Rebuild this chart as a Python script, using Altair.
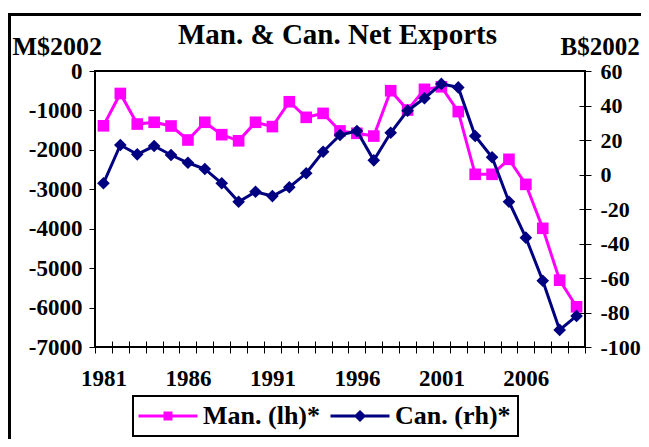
import altair as alt
import pandas as pd

# ---------------- data ----------------
years = [1981, 1982, 1983, 1984, 1985, 1986, 1987, 1988, 1989, 1990,
         1991, 1992, 1993, 1994, 1995, 1996, 1997, 1998, 1999, 2000,
         2001, 2002, 2003, 2004, 2005, 2006, 2007, 2008, 2009]
man = [-1390, -570, -1345, -1300, -1395, -1750, -1300, -1615, -1770, -1300,
       -1410, -780, -1175, -1075, -1520, -1580, -1650, -500, -990, -465,
       -400, -1030, -2620, -2620, -2240, -2875, -3990, -5305, -5980]
can = [-5.1, 17.1, 11.7, 16.5, 11.3, 6.8, 3.2, -5.1, -15.8, -10.0,
       -12.5, -7.4, 0.7, 13.2, 22.9, 25.2, 8.2, 24.2, 37.0, 44.2,
       52.5, 50.5, 22.3, 10.0, -15.8, -36.6, -61.6, -90.1, -82.0]
series_names = ["Man. (lh)*", "Can. (rh)*"]
series_colors = ["#FF00FF", "#000080"]
label_years = [1981, 1986, 1991, 1996, 2001, 2006]
left_ticks = [-7000, -6000, -5000, -4000, -3000, -2000, -1000, 0]
right_ticks = [-100, -80, -60, -40, -20, 0, 20, 40, 60]
title_text = "Man. & Can. Net Exports"

df = pd.DataFrame({"year": years, "man": man, "can": can})

FONT = "Liberation Serif"
W, H = 490, 276
half_band = W / len(years) / 2
boundaries = [y - 0.5 for y in years] + [years[-1] + 0.5]

x_enc = alt.X(
    "year:Q",
    scale=alt.Scale(domain=[years[0] - 0.5, years[-1] + 0.5], nice=False, zero=False),
    axis=alt.Axis(
        values=boundaries,
        labelExpr="indexof(" + str(label_years) + ", datum.value + 0.5) >= 0 ? toString(datum.value + 0.5) : ''",
        labelOffset=half_band, labelPadding=14, labelFlush=False, labelOverlap=False,
        labelFont=FONT, labelFontSize=23, labelFontWeight="bold", labelColor="black",
        tickSize=12, tickColor="black", tickWidth=1, offset=-6,
        domain=False, grid=False, title=None,
    ),
)

man_base = alt.Chart(df).encode(
    x=x_enc,
    y=alt.Y(
        "man:Q",
        scale=alt.Scale(domain=[left_ticks[0], left_ticks[-1]], nice=False),
        axis=alt.Axis(
            orient="left", values=left_ticks, labelExpr="'' + datum.value",
            labelFont=FONT, labelFontSize=23, labelFontWeight="bold", labelColor="black",
            labelPadding=7, tickSize=6, tickColor="black", tickWidth=1,
            domain=False, grid=False,
            title="M$2002", titleAngle=0, titleX=-83, titleY=-17,
            titleAlign="left", titleBaseline="alphabetic",
            titleFont=FONT, titleFontSize=26, titleFontWeight="bold", titleColor="black",
        ),
    ),
)
man_layer = alt.layer(
    man_base.mark_line(color=series_colors[0], strokeWidth=3),
    man_base.mark_point(shape="square", filled=True, size=135, opacity=1, color=series_colors[0]),
)

can_base = alt.Chart(df).encode(
    x=x_enc,
    y=alt.Y(
        "can:Q",
        scale=alt.Scale(domain=[right_ticks[0], right_ticks[-1]], nice=False),
        axis=alt.Axis(
            orient="right", values=right_ticks, labelExpr="'' + datum.value",
            labelFont=FONT, labelFontSize=22, labelFontWeight="bold", labelColor="black",
            labelPadding=9, tickSize=12, tickColor="black", tickWidth=1, offset=-6,
            domain=False, grid=False,
            title="B$2002", titleAngle=0, titleX=-19, titleY=-17,
            titleAlign="left", titleBaseline="alphabetic",
            titleFont=FONT, titleFontSize=25, titleFontWeight="bold", titleColor="black",
        ),
    ),
)
can_layer = alt.layer(
    can_base.mark_line(color=series_colors[1], strokeWidth=3),
    can_base.mark_point(shape="diamond", filled=True, size=160, opacity=1, color=series_colors[1]),
)

# legend (line + marker symbols)
square_path = "M-2.95,0L2.95,0M-0.3,-0.3L0.3,-0.3L0.3,0.3L-0.3,0.3Z"
diamond_path = "M-2.95,0L2.95,0M0,-0.4L0.4,0L0,0.4L-0.4,0Z"
leg = alt.Legend(
    orient="none", legendX=38, legendY=325, direction="horizontal", title=None,
    labelFont=FONT, labelFontSize=26, labelFontWeight="bold", labelColor="black",
    symbolSize=400, symbolStrokeWidth=3, symbolOffset=15, labelOffset=22,
    columnPadding=4, padding=7, strokeColor="black", fillColor="white",
    symbolOpacity=1,
)
leg_df = pd.DataFrame({"series": series_names})
legend_layer = alt.Chart(leg_df).mark_point(filled=True, opacity=0).encode(
    fill=alt.Fill("series:N", scale=alt.Scale(domain=series_names, range=series_colors), legend=leg),
    stroke=alt.Stroke("series:N", scale=alt.Scale(domain=series_names, range=series_colors), legend=leg),
    shape=alt.Shape("series:N", scale=alt.Scale(domain=series_names, range=[square_path, diamond_path]), legend=leg),
)

frame = alt.Chart(pd.DataFrame({"f": [0]})).mark_rect(
    filled=False, stroke="black", strokeWidth=3
).encode(
    x=alt.value(-85.5), x2=alt.value(800), y=alt.value(-56.5), y2=alt.value(600)
)

title_layer = alt.Chart(pd.DataFrame({"t": [title_text]})).mark_text(
    font=FONT, fontSize=29, fontWeight="bold", color="black",
    align="center", baseline="alphabetic",
).encode(text="t:N", x=alt.value(W / 2 - 2.5), y=alt.value(-27))

chart = alt.layer(frame, title_layer, man_layer, can_layer, legend_layer).resolve_scale(
    y="independent"
).properties(
    width=W, height=H,
    autosize=alt.AutoSizeParams(type="none"),
    padding={"left": 87, "top": 63, "right": 56, "bottom": 92},
).configure_view(stroke="black", strokeWidth=2).configure_legend(strokeWidth=2)

chart.save("out.html", embed_options={"renderer": "svg", "actions": False})
